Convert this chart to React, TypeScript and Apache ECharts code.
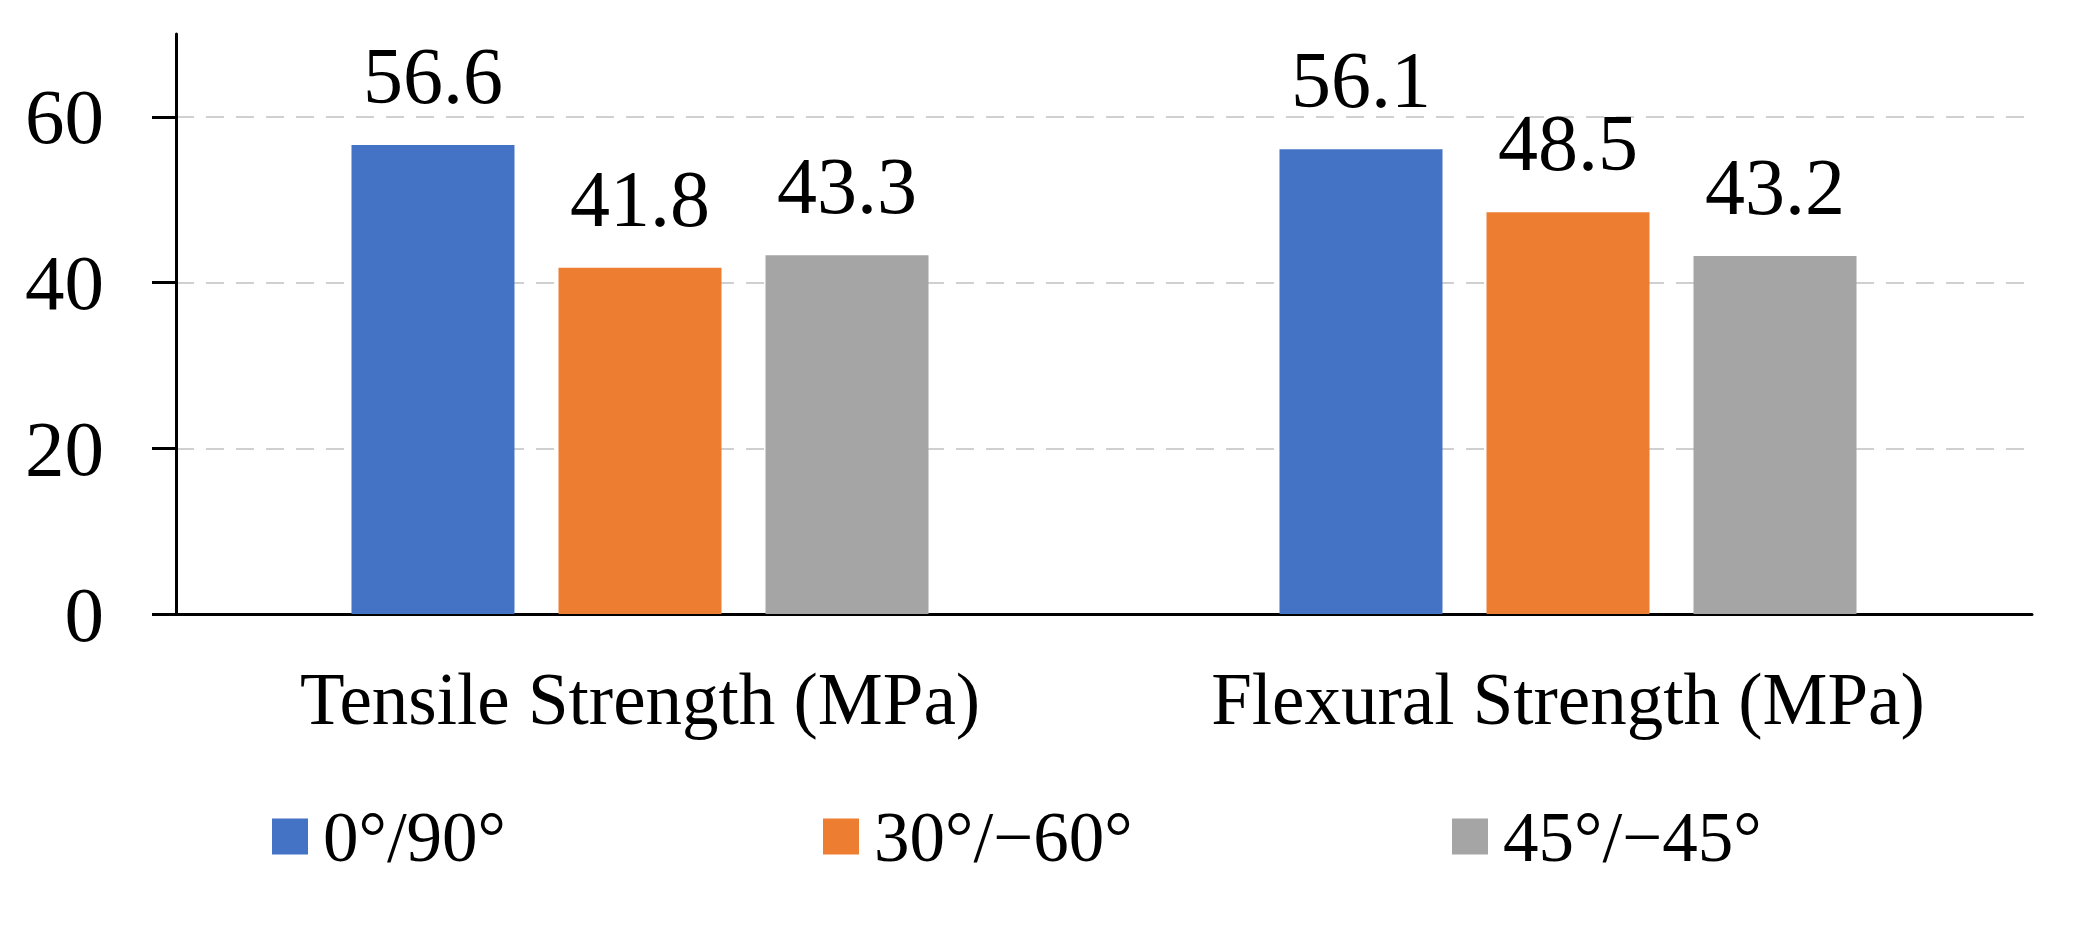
import React, { useEffect, useRef } from "react";
import * as echarts from "echarts";

const categories = ["Tensile Strength (MPa)", "Flexural Strength (MPa)"];
const seriesNames = ["0°/90°", "30°/\u221260°", "45°/\u221245°"];
const values0_90 = [56.6, 56.1];
const values30_60 = [41.8, 48.5];
const values45_45 = [43.3, 43.2];
const yTicks = [0, 20, 40, 60];
const yMax = 70;
const colors = ["#4472C4", "#ED7D31", "#A5A5A5"];

const FONT = "'Liberation Serif', 'Times New Roman', serif";

export default function App() {
  const ref = useRef<HTMLDivElement>(null);
  useEffect(() => {
    if (!ref.current) return;
    const chart = echarts.init(ref.current, undefined, { renderer: "svg" });
    const seriesData = [values0_90, values30_60, values45_45];
    const legendLefts = [267, 818, 1447];
    const gTop = 34;
    const gBottom = 330;
    const gHeight = 944 - gTop - gBottom;
    const lastTick = yTicks[yTicks.length - 1];
    const tickGridTop = gTop + (gHeight * (yMax - lastTick)) / yMax;
    chart.setOption({
      animation: false,
      backgroundColor: "#ffffff",
      grid: [
        { left: 176, right: 41, top: gTop, bottom: gBottom, containLabel: false },
        { left: 176, right: 41, top: tickGridTop, bottom: gBottom, containLabel: false },
      ],
      legend: seriesNames.map((n, i) => ({
        data: [n],
        left: legendLefts[i],
        top: 796,
        itemWidth: 36,
        itemHeight: 36,
        icon: "rect",
        selectedMode: false,
        textStyle: {
          fontFamily: FONT,
          fontSize: 71,
          lineHeight: 71,
          color: "#000",
          padding: [0, 0, 0, 10],
        },
      })),
      xAxis: [
        {
          type: "category",
          gridIndex: 0,
          data: categories,
          axisLine: { show: true, lineStyle: { color: "#000", width: 3 } },
          axisTick: { show: false },
          axisLabel: {
            fontFamily: FONT,
            fontSize: 73,
            color: "#000",
            margin: 49,
          },
          splitLine: { show: false },
        },
        {
          type: "category",
          gridIndex: 1,
          data: categories,
          show: false,
        },
      ],
      yAxis: [
        {
          type: "value",
          gridIndex: 0,
          min: 0,
          max: yMax,
          interval: 20,
          axisLine: { show: true, lineStyle: { color: "#000", width: 3 } },
          axisTick: { show: false },
          axisLabel: {
            fontFamily: FONT,
            fontSize: 79,
            color: "#000",
            margin: 72,
            formatter: (v: number) => (yTicks.includes(v) ? String(v) : ""),
          },
          splitLine: {
            show: true,
            showMaxLine: false,
            lineStyle: { color: "#d0d0d0", width: 2, type: [18, 12] },
          },
        },
        {
          type: "value",
          gridIndex: 1,
          min: 0,
          max: lastTick,
          interval: 20,
          axisLine: { show: true, lineStyle: { color: "#000", width: 3 } },
          axisTick: {
            show: true,
            length: 24,
            inside: false,
            lineStyle: { color: "#000", width: 3 },
          },
          axisLabel: { show: false },
          splitLine: { show: false },
        },
      ],
      series: seriesNames.map((n, i) => ({
        name: n,
        type: "bar",
        xAxisIndex: 0,
        yAxisIndex: 0,
        data: seriesData[i],
        barWidth: 163,
        barGap: "27%",
        itemStyle: { color: colors[i] },
        label: {
          show: true,
          position: "top",
          distance: 29,
          fontFamily: FONT,
          fontSize: 80,
          color: "#000",
          formatter: (p: any) => p.value.toFixed(1),
        },
      })),
    });
    return () => chart.dispose();
  }, []);
  return (
    <div
      ref={ref}
      style={{ position: "absolute", left: 0, top: 0, width: 2073, height: 944 }}
    />
  );
}
